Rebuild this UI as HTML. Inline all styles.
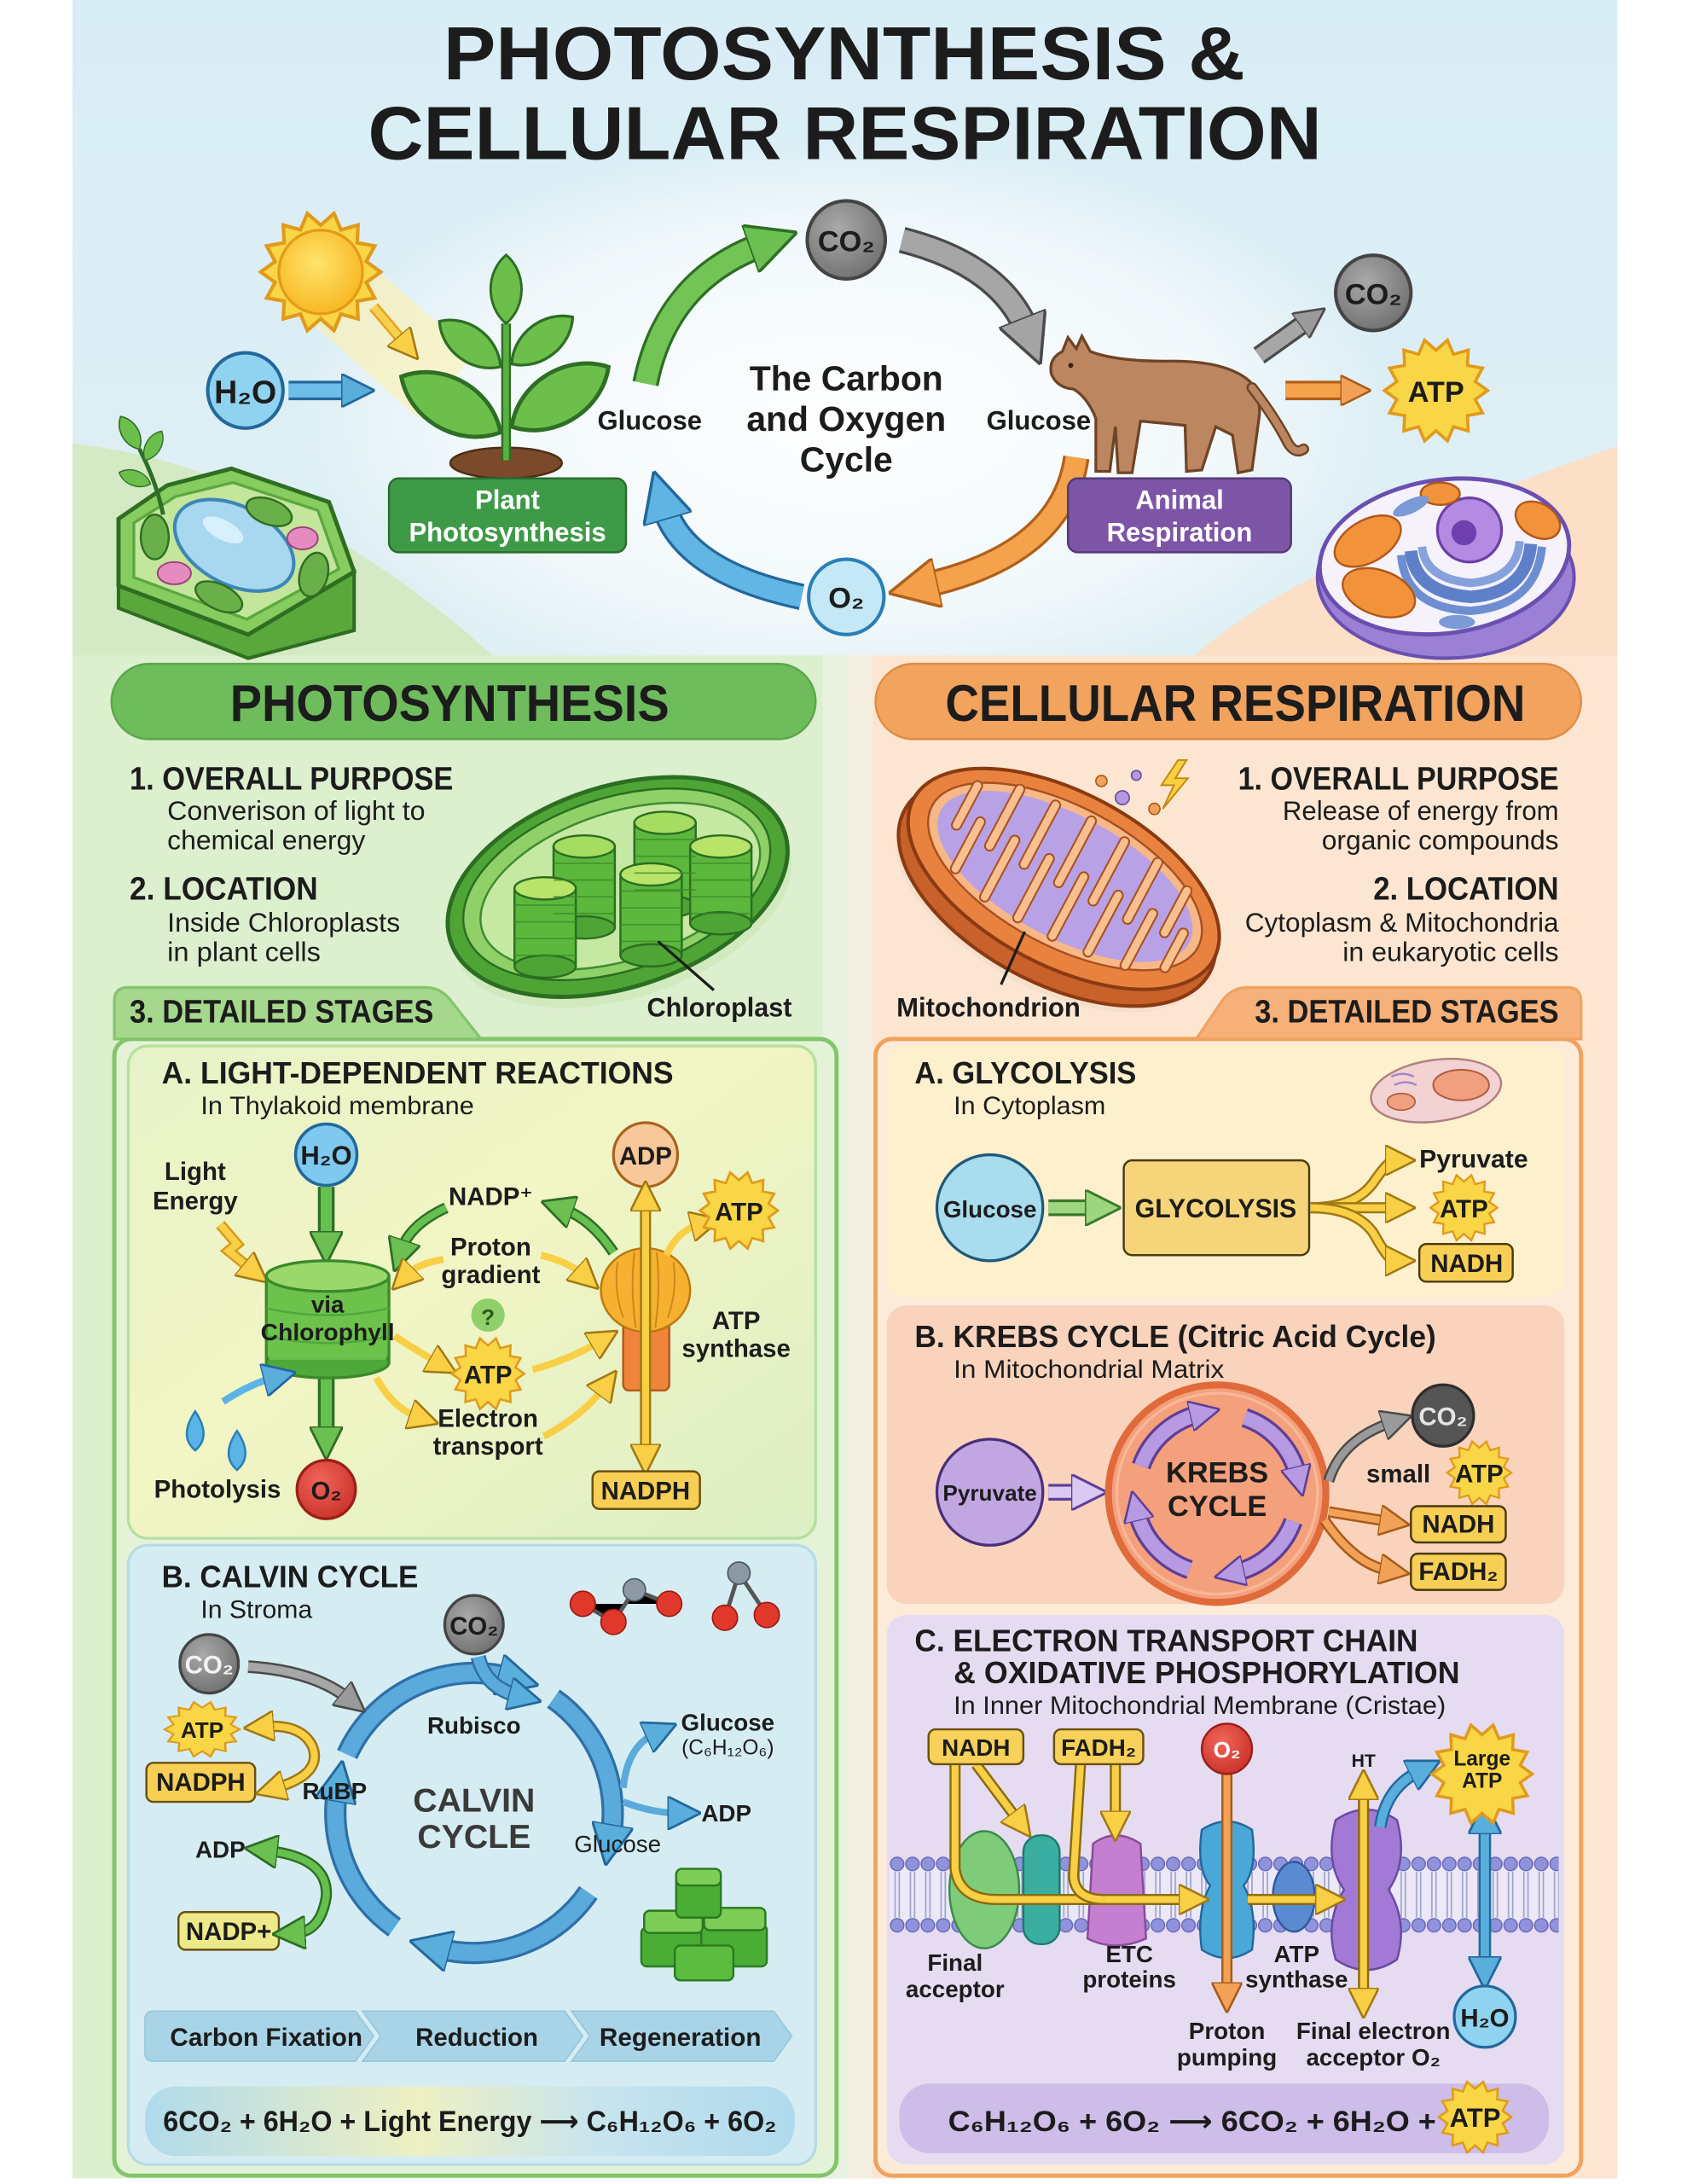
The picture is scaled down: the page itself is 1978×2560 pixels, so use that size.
<!DOCTYPE html>
<html><head><meta charset="utf-8">
<style>
html,body{margin:0;padding:0;background:#fff;overflow:hidden}
svg{display:block}
text{font-family:"Liberation Sans","DejaVu Sans",Arial,sans-serif;fill:#1c1c1c}
.b{font-weight:bold}
.c{text-anchor:middle}
.r{text-anchor:end}
</style></head><body>
<svg width="1978" height="2560" viewBox="0 0 1210 1566" preserveAspectRatio="none" xmlns="http://www.w3.org/2000/svg">
<defs>
<linearGradient id="gTop" x1="0" y1="0" x2="0" y2="1"><stop offset="0" stop-color="#d9edf6"/><stop offset="1" stop-color="#eef6f1"/></linearGradient>
<radialGradient id="glow" cx="0.5" cy="0.5" r="0.5"><stop offset="0" stop-color="#ffffff" stop-opacity="0.95"/><stop offset="0.7" stop-color="#ffffff" stop-opacity="0.6"/><stop offset="1" stop-color="#ffffff" stop-opacity="0"/></radialGradient>
<linearGradient id="gA" x1="0" y1="0" x2="1" y2="1"><stop offset="0" stop-color="#e6f3c8"/><stop offset="0.45" stop-color="#f2f5c4"/><stop offset="1" stop-color="#dcefc4"/></linearGradient>
<linearGradient id="gEqL" x1="0" y1="0" x2="1" y2="0"><stop offset="0" stop-color="#b0daec"/><stop offset="0.42" stop-color="#eef0c2"/><stop offset="0.7" stop-color="#c6e4ee"/><stop offset="1" stop-color="#b0daec"/></linearGradient>
<radialGradient id="gSun" cx="0.45" cy="0.4" r="0.6"><stop offset="0" stop-color="#ffe46a"/><stop offset="1" stop-color="#f7b824"/></radialGradient>
<radialGradient id="gGray" cx="0.4" cy="0.35" r="0.7"><stop offset="0" stop-color="#a9a9a9"/><stop offset="1" stop-color="#707070"/></radialGradient>
<radialGradient id="gRed" cx="0.4" cy="0.35" r="0.7"><stop offset="0" stop-color="#f2645a"/><stop offset="1" stop-color="#c8322a"/></radialGradient>
<pattern id="heads" width="11" height="11" patternUnits="userSpaceOnUse"><circle cx="5.5" cy="5.5" r="4.8" fill="#8f93dc" stroke="#5d60ae" stroke-width="0.8"/></pattern>
<pattern id="tails" width="11" height="11" patternUnits="userSpaceOnUse"><path d="M4,0V11M7,0V11" stroke="#9aa0c6" stroke-width="1"/></pattern>
<polygon id="star" points="10,0 7.6,1.74 9.01,4.34 6.1,4.86 6.23,7.82 3.38,7.03 2.22,9.75 0,7.8 -2.22,9.75 -3.38,7.03 -6.23,7.82 -6.1,4.86 -9.01,4.34 -7.6,1.74 -10,0 -7.6,-1.74 -9.01,-4.34 -6.1,-4.86 -6.23,-7.82 -3.38,-7.03 -2.22,-9.75 0,-7.8 2.22,-9.75 3.38,-7.03 6.23,-7.82 6.1,-4.86 9.01,-4.34 7.6,-1.74" fill="#f9d646" stroke="#e09a1c" stroke-width="0.6"/>
<path id="leaf" d="M0,0 C15,-18 45,-18 60,0 C45,18 15,18 0,0 Z" fill="#6cbf4a" stroke="#2e6e25" stroke-width="2.2"/>
<marker id="mGL" viewBox="0 0 10 10" refX="3" refY="5" markerWidth="36" markerHeight="36" markerUnits="userSpaceOnUse" orient="auto"><path d="M0,0L10,5L0,10z" fill="#6cc052" stroke="#2e6e25" stroke-width="0.6"/></marker>
<marker id="mKL" viewBox="0 0 10 10" refX="3" refY="5" markerWidth="36" markerHeight="36" markerUnits="userSpaceOnUse" orient="auto"><path d="M0,0L10,5L0,10z" fill="#a4a4a4" stroke="#4a4a4a" stroke-width="0.6"/></marker>
<marker id="mOL" viewBox="0 0 10 10" refX="3" refY="5" markerWidth="36" markerHeight="36" markerUnits="userSpaceOnUse" orient="auto"><path d="M0,0L10,5L0,10z" fill="#f4a04a" stroke="#b0601a" stroke-width="0.6"/></marker>
<marker id="mBL" viewBox="0 0 10 10" refX="3" refY="5" markerWidth="36" markerHeight="36" markerUnits="userSpaceOnUse" orient="auto"><path d="M0,0L10,5L0,10z" fill="#5fb4e4" stroke="#22689c" stroke-width="0.6"/></marker>
<marker id="mG" viewBox="0 0 10 10" refX="3" refY="5" markerWidth="24" markerHeight="24" markerUnits="userSpaceOnUse" orient="auto-start-reverse"><path d="M0,0L10,5L0,10z" fill="#6cc052" stroke="#2e6e25" stroke-width="0.7"/></marker>
<marker id="mY" viewBox="0 0 10 10" refX="3" refY="5" markerWidth="22" markerHeight="22" markerUnits="userSpaceOnUse" orient="auto-start-reverse"><path d="M0,0L10,5L0,10z" fill="#f8cf45" stroke="#a07814" stroke-width="0.7"/></marker>
<marker id="mB" viewBox="0 0 10 10" refX="3" refY="5" markerWidth="24" markerHeight="24" markerUnits="userSpaceOnUse" orient="auto-start-reverse"><path d="M0,0L10,5L0,10z" fill="#5aaedc" stroke="#22689c" stroke-width="0.7"/></marker>
<marker id="mBB" viewBox="0 0 10 10" refX="3" refY="5" markerWidth="30" markerHeight="30" markerUnits="userSpaceOnUse" orient="auto"><path d="M0,0L10,5L0,10z" fill="#5aaedc" stroke="#22689c" stroke-width="0.6"/></marker>
<marker id="mO" viewBox="0 0 10 10" refX="3" refY="5" markerWidth="22" markerHeight="22" markerUnits="userSpaceOnUse" orient="auto-start-reverse"><path d="M0,0L10,5L0,10z" fill="#f2a256" stroke="#a85a18" stroke-width="0.7"/></marker>
<marker id="mK" viewBox="0 0 10 10" refX="3" refY="5" markerWidth="22" markerHeight="22" markerUnits="userSpaceOnUse" orient="auto"><path d="M0,0L10,5L0,10z" fill="#9a9a9a" stroke="#4a4a4a" stroke-width="0.7"/></marker>
<marker id="mP" viewBox="0 0 10 10" refX="3" refY="5" markerWidth="22" markerHeight="22" markerUnits="userSpaceOnUse" orient="auto"><path d="M0,0L10,5L0,10z" fill="#b79ae2" stroke="#5e3e96" stroke-width="0.7"/></marker>
<marker id="mLG" viewBox="0 0 10 10" refX="3" refY="5" markerWidth="26" markerHeight="26" markerUnits="userSpaceOnUse" orient="auto"><path d="M0,0L10,5L0,10z" fill="#9ed67e" stroke="#3a7a2a" stroke-width="0.7"/></marker>
<marker id="mLP" viewBox="0 0 10 10" refX="3" refY="5" markerWidth="26" markerHeight="26" markerUnits="userSpaceOnUse" orient="auto"><path d="M0,0L10,5L0,10z" fill="#d9c8f2" stroke="#5e3e96" stroke-width="0.7"/></marker>
</defs>

<!-- ============ BACKGROUND ============ -->
<rect x="52" y="0" width="1108" height="1562" fill="url(#gTop)"/>
<path d="M52,318 Q160,330 256,396 Q310,430 360,476 L52,476 Z" fill="#d3eac4"/>
<path d="M1160,320 Q1040,360 930,420 Q880,448 850,476 L1160,476 Z" fill="#fbdfc6"/>
<ellipse cx="605" cy="300" rx="390" ry="200" fill="url(#glow)"/>
<rect x="52" y="470" width="556" height="1092" fill="#dcefcf"/>
<rect x="608" y="470" width="552" height="1092" fill="#fce6d2"/>
<rect x="590" y="470" width="36" height="1092" fill="#eef4ea" opacity="0.6"/>

<!-- ============ TITLE ============ -->
<text class="b" x="318" y="57" font-size="54" textLength="575" lengthAdjust="spacingAndGlyphs">PHOTOSYNTHESIS &amp;</text>
<text class="b" x="264" y="114" font-size="54" textLength="684" lengthAdjust="spacingAndGlyphs">CELLULAR RESPIRATION</text>

<!-- ============ TOP CYCLE ============ -->
<polygon points="205,215 250,175 340,255 300,300" fill="#fff1a6" opacity="0.55"/>
<use href="#star" transform="translate(230,195) scale(4.3)" fill="#f7c02e"/>
<circle cx="230" cy="195" r="30" fill="url(#gSun)" stroke="#e59a1a" stroke-width="2"/>
<path d="M268,220 L290,246" stroke="#e8a21c" stroke-width="8" fill="none"/>
<path d="M268,220 L290,246" stroke="#f8d050" stroke-width="5" fill="none" marker-end="url(#mY)"/>

<circle cx="176" cy="280" r="27" fill="#8fd3f0" stroke="#22689c" stroke-width="2.5"/>
<text class="b c" x="176" y="289" font-size="23">H₂O</text>
<path d="M207,280 L252,280" stroke="#22689c" stroke-width="14" fill="none"/>
<path d="M207,280 L252,280" stroke="#6cbde8" stroke-width="10" fill="none" marker-end="url(#mB)"/>

<ellipse cx="363" cy="332" rx="40" ry="11" fill="#7a4a2a" stroke="#4e2e18" stroke-width="1.5"/>
<path d="M363,330 L363,232" stroke="#2e6e25" stroke-width="7" fill="none"/>
<path d="M363,330 L363,232" stroke="#5bb043" stroke-width="4" fill="none"/>
<use href="#leaf" transform="translate(363,232) rotate(-90) scale(0.82)"/>
<use href="#leaf" transform="translate(359,263) rotate(216.7) scale(0.91)"/>
<use href="#leaf" transform="translate(367,261) rotate(-37.6) scale(0.92)"/>
<use href="#leaf" transform="translate(359,310) rotate(209.3) scale(1.36)"/>
<use href="#leaf" transform="translate(367,306) rotate(-31.7) scale(1.36)"/>

<rect x="279" y="343" width="170" height="53" rx="7" fill="#3f9a47" stroke="#2a6e30" stroke-width="1.5"/>
<text class="b c" x="364" y="365" font-size="19" style="fill:#fff">Plant</text>
<text class="b c" x="364" y="388" font-size="19" style="fill:#fff">Photosynthesis</text>

<text class="b c" x="466" y="308" font-size="19">Glucose</text>
<text class="b c" x="745" y="308" font-size="19">Glucose</text>

<text class="b c" x="607" y="280" font-size="25">The Carbon</text>
<text class="b c" x="607" y="309" font-size="25">and Oxygen</text>
<text class="b c" x="607" y="338" font-size="25">Cycle</text>

<g fill="none">
<path d="M463,275 Q478,200 548,175" stroke="#2e6e25" stroke-width="19"/>
<path d="M463,275 Q478,200 548,175" stroke="#72c455" stroke-width="15" marker-end="url(#mGL)"/>
<path d="M647,172 Q718,190 737,238" stroke="#4a4a4a" stroke-width="19"/>
<path d="M647,172 Q718,190 737,238" stroke="#a6a6a6" stroke-width="15" marker-end="url(#mKL)"/>
<path d="M772,328 Q762,398 662,420" stroke="#b0601a" stroke-width="19"/>
<path d="M772,328 Q762,398 662,420" stroke="#f5a24c" stroke-width="15" marker-end="url(#mOL)"/>
<path d="M575,428 Q490,410 476,362" stroke="#22689c" stroke-width="19"/>
<path d="M575,428 Q490,410 476,362" stroke="#62b6e4" stroke-width="15" marker-end="url(#mBL)"/>
</g>

<circle cx="607" cy="172" r="28" fill="url(#gGray)" stroke="#444" stroke-width="2.5"/>
<text class="b c" x="607" y="180" font-size="21">CO₂</text>
<circle cx="607" cy="428" r="27" fill="#c4e8f6" stroke="#2a7fb5" stroke-width="2.5"/>
<text class="b c" x="607" y="436" font-size="21">O₂</text>

<!-- cat -->
<path d="M754,268 Q752,257 762,252 L766,242 L772,250 L776,241 L782,252 Q800,259 836,259 Q880,258 897,274 Q905,288 903,300 L898,337 L888,339 L884,312 L872,306 L862,337 L851,338 L850,305 Q830,303 818,302 L812,339 L802,339 L800,306 L796,338 L786,338 L786,300 Q780,285 770,279 Q758,278 754,268 Z" fill="#bb8660" stroke="#6e4426" stroke-width="2"/>
<path d="M898,278 Q915,300 924,318 Q929,326 935,322" stroke="#6e4426" stroke-width="8" fill="none" stroke-linecap="round"/>
<path d="M898,278 Q915,300 924,318 Q929,326 935,322" stroke="#bb8660" stroke-width="5" fill="none" stroke-linecap="round"/>
<circle cx="768" cy="262" r="1.8" fill="#3a2010"/>

<rect x="766" y="343" width="160" height="53" rx="7" fill="#7d55a6" stroke="#553a78" stroke-width="1.5"/>
<text class="b c" x="846" y="365" font-size="19" style="fill:#fff">Animal</text>
<text class="b c" x="846" y="388" font-size="19" style="fill:#fff">Respiration</text>

<path d="M903,255 L938,230" stroke="#4a4a4a" stroke-width="14" fill="none"/>
<path d="M903,255 L938,230" stroke="#a6a6a6" stroke-width="10" fill="none" marker-end="url(#mK)"/>
<circle cx="985" cy="210" r="27" fill="url(#gGray)" stroke="#444" stroke-width="2.5"/>
<text class="b c" x="985" y="218" font-size="21">CO₂</text>
<path d="M922,280 L968,280" stroke="#b0601a" stroke-width="14" fill="none"/>
<path d="M922,280 L968,280" stroke="#f5a24c" stroke-width="10" fill="none" marker-end="url(#mO)"/>
<use href="#star" transform="translate(1030,280) scale(3.7)"/>
<text class="b c" x="1030" y="288" font-size="21">ATP</text>

<!-- plant cell -->
<g>
<polygon points="85,372 85,436 178,472 254,452 254,410 178,455 85,420" fill="#5aa83c" stroke="#2f6e22" stroke-width="2.5"/>
<polygon points="85,372 120,348 166,336 236,360 254,410 178,455 85,420" fill="#86cc5e" stroke="#2f6e22" stroke-width="3"/>
<polygon points="96,375 126,356 167,346 228,366 243,408 177,444 96,414" fill="#c3e59c" stroke="#5aa83e" stroke-width="2"/>
<ellipse cx="168" cy="391" rx="46" ry="28" transform="rotate(28 168 391)" fill="#a8d8ef" stroke="#3d86b8" stroke-width="2.5"/>
<ellipse cx="160" cy="380" rx="16" ry="7" transform="rotate(28 160 380)" fill="#d8f0fb"/>
<ellipse cx="111" cy="385" rx="10" ry="16" fill="#6ab04a" stroke="#2f6e22" stroke-width="1.5"/>
<ellipse cx="193" cy="367" rx="17" ry="9" transform="rotate(20 193 367)" fill="#6ab04a" stroke="#2f6e22" stroke-width="1.5"/>
<ellipse cx="225" cy="412" rx="10" ry="16" transform="rotate(15 225 412)" fill="#6ab04a" stroke="#2f6e22" stroke-width="1.5"/>
<ellipse cx="157" cy="428" rx="18" ry="9" transform="rotate(25 157 428)" fill="#6ab04a" stroke="#2f6e22" stroke-width="1.5"/>
<ellipse cx="125" cy="411" rx="12" ry="8" fill="#e58bc0" stroke="#a0407a" stroke-width="1.2"/>
<ellipse cx="217" cy="386" rx="11" ry="8" fill="#e58bc0" stroke="#a0407a" stroke-width="1.2"/>
<path d="M117,369 Q112,345 100,322" stroke="#2e6e25" stroke-width="3" fill="none"/>
<use href="#leaf" transform="translate(100,322) rotate(-120) scale(0.45)"/>
<use href="#leaf" transform="translate(104,330) rotate(-60) scale(0.4)"/>
<use href="#leaf" transform="translate(108,347) rotate(200) scale(0.4)"/>
</g>

<!-- animal cell -->
<g>
<ellipse cx="1037" cy="414" rx="92" ry="58" fill="#9c80d6" stroke="#6a4fb0" stroke-width="2.5"/>
<ellipse cx="1036" cy="399" rx="90" ry="55" transform="rotate(-8 1036 399)" fill="#f6f2fb" stroke="#6a4fb0" stroke-width="3"/>
<path d="M1012,395 Q1015,425 1055,428 Q1095,425 1098,390" stroke="#5d80c8" stroke-width="9" fill="none"/>
<path d="M1020,392 Q1022,415 1055,418 Q1088,415 1090,388" stroke="#86a2dc" stroke-width="6" fill="none"/>
<path d="M1005,398 Q1008,436 1055,438 Q1102,434 1106,392" stroke="#6e8ed2" stroke-width="6" fill="none"/>
<circle cx="1054" cy="380" r="23" fill="#b48ae2" stroke="#6a40a8" stroke-width="2"/>
<circle cx="1050" cy="382" r="9" fill="#7040b0"/>
<ellipse cx="981" cy="388" rx="26" ry="15" transform="rotate(-30 981 388)" fill="#f2923a" stroke="#b0581a" stroke-width="1.5"/>
<ellipse cx="989" cy="425" rx="27" ry="16" transform="rotate(20 989 425)" fill="#f2923a" stroke="#b0581a" stroke-width="1.5"/>
<ellipse cx="1103" cy="373" rx="17" ry="12" transform="rotate(30 1103 373)" fill="#f2923a" stroke="#b0581a" stroke-width="1.5"/>
<ellipse cx="1033" cy="354" rx="14" ry="8" fill="#f2923a" stroke="#b0581a" stroke-width="1.5"/>
<ellipse cx="1012" cy="363" rx="14" ry="5" transform="rotate(-25 1012 363)" fill="#7a9ad8"/>
<ellipse cx="1045" cy="446" rx="13" ry="5" fill="#7a9ad8"/>
</g>

<!-- ============ HEADERS ============ -->
<rect x="80" y="476" width="505" height="54" rx="27" fill="#6fbc5c" stroke="#5aa848" stroke-width="1.5"/>
<text class="b" x="165" y="517" font-size="37" textLength="315" lengthAdjust="spacingAndGlyphs">PHOTOSYNTHESIS</text>
<rect x="628" y="476" width="506" height="54" rx="27" fill="#f2a35e" stroke="#e08c44" stroke-width="1.5"/>
<text class="b" x="678" y="517" font-size="37" textLength="416" lengthAdjust="spacingAndGlyphs">CELLULAR RESPIRATION</text>

<!-- ============ LEFT INFO ============ -->
<text class="b" x="93" y="566" font-size="23" textLength="232" lengthAdjust="spacingAndGlyphs">1. OVERALL PURPOSE</text>
<text x="120" y="588" font-size="19" textLength="185" lengthAdjust="spacingAndGlyphs">Converison of light to</text>
<text x="120" y="609" font-size="19" textLength="142" lengthAdjust="spacingAndGlyphs">chemical energy</text>
<text class="b" x="93" y="645" font-size="23" textLength="135" lengthAdjust="spacingAndGlyphs">2. LOCATION</text>
<text x="120" y="668" font-size="19" textLength="167" lengthAdjust="spacingAndGlyphs">Inside Chloroplasts</text>
<text x="120" y="689" font-size="19" textLength="110" lengthAdjust="spacingAndGlyphs">in plant cells</text>

<!-- chloroplast -->
<g transform="rotate(-18 443 636)">
<ellipse cx="443" cy="646" rx="126" ry="70" fill="#c8e6b0" opacity="0.6"/>
<ellipse cx="443" cy="636" rx="126" ry="72" fill="#4ea536" stroke="#2b6e22" stroke-width="3"/>
<ellipse cx="443" cy="634" rx="114" ry="62" fill="#8fd068" stroke="#2b6e22" stroke-width="1.5"/>
<ellipse cx="445" cy="636" rx="104" ry="53" fill="#c5e8a2" stroke="#3f8a2e" stroke-width="1.5"/>
</g>
<g stroke="#2b6e22" stroke-width="1.5">
<g><rect x="455" y="590" width="44" height="60" fill="#5cb83c"/><ellipse cx="477" cy="650" rx="22" ry="8" fill="#4ea536"/><ellipse cx="477" cy="590" rx="22" ry="8" fill="#a6dc60"/></g>
<g><rect x="495" y="607" width="44" height="55" fill="#5cb83c"/><ellipse cx="517" cy="662" rx="22" ry="8" fill="#4ea536"/><ellipse cx="517" cy="607" rx="22" ry="8" fill="#b8e46a"/></g>
<g><rect x="397" y="607" width="44" height="58" fill="#5cb83c"/><ellipse cx="419" cy="665" rx="22" ry="8" fill="#4ea536"/><ellipse cx="419" cy="607" rx="22" ry="8" fill="#a6dc60"/></g>
<g><rect x="369" y="637" width="44" height="56" fill="#5cb83c"/><ellipse cx="391" cy="693" rx="22" ry="8" fill="#4ea536"/><ellipse cx="391" cy="637" rx="22" ry="8" fill="#b8e46a"/></g>
<g><rect x="445" y="627" width="44" height="58" fill="#5cb83c"/><ellipse cx="467" cy="685" rx="22" ry="8" fill="#4ea536"/><ellipse cx="467" cy="627" rx="22" ry="8" fill="#b8e46a"/></g>
</g>
<g stroke="#3a8a2a" stroke-width="1" opacity="0.8" fill="none">
<path d="M455,602h44M455,614h44M455,626h44M455,638h44"/>
<path d="M495,619h44M495,631h44M495,643h44M495,655h44"/>
<path d="M397,619h44M397,631h44M397,643h44M397,655h44"/>
<path d="M369,649h44M369,661h44M369,673h44M369,685h44"/>
<path d="M445,639h44M445,651h44M445,663h44M445,675h44"/>
</g>
<path d="M472,675 L512,710" stroke="#1c1c1c" stroke-width="2"/>
<text class="b" x="464" y="729" font-size="19" textLength="104" lengthAdjust="spacingAndGlyphs">Chloroplast</text>

<!-- ============ RIGHT INFO ============ -->
<text class="b r" x="1118" y="566" font-size="23" textLength="230" lengthAdjust="spacingAndGlyphs">1. OVERALL PURPOSE</text>
<text class="r" x="1118" y="588" font-size="19" textLength="198" lengthAdjust="spacingAndGlyphs">Release of energy from</text>
<text class="r" x="1118" y="609" font-size="19" textLength="170" lengthAdjust="spacingAndGlyphs">organic compounds</text>
<text class="b r" x="1118" y="645" font-size="23" textLength="133" lengthAdjust="spacingAndGlyphs">2. LOCATION</text>
<text class="r" x="1118" y="668" font-size="19" textLength="225" lengthAdjust="spacingAndGlyphs">Cytoplasm &amp; Mitochondria</text>
<text class="r" x="1118" y="689" font-size="19" textLength="155" lengthAdjust="spacingAndGlyphs">in eukaryotic cells</text>

<!-- mitochondrion -->
<g transform="rotate(28 762 632)">
<ellipse cx="762" cy="645" rx="124" ry="66" fill="#f3dcc8" opacity="0.7"/>
<ellipse cx="762" cy="640" rx="124" ry="66" fill="#c9612a" stroke="#8a3a12" stroke-width="2.5"/>
<ellipse cx="762" cy="630" rx="122" ry="62" fill="#e8823e" stroke="#8a3a12" stroke-width="2.5"/>
<ellipse cx="762" cy="628" rx="108" ry="50" fill="#f7b888" stroke="#a85020" stroke-width="1.5"/>
<ellipse cx="762" cy="628" rx="101" ry="44" fill="#b9a1e6"/>
<path d="M676,600 V632 M690,660 V622 M704,588 V634 M718,668 V622 M732,586 V634 M746,670 V622 M760,584 V634 M774,670 V622 M788,586 V634 M802,668 V622 M816,588 V634 M830,664 V622 M844,596 V630 M856,652 V624" stroke="#a85020" stroke-width="8" stroke-linecap="round" fill="none"/>
<path d="M676,600 V632 M690,660 V622 M704,588 V634 M718,668 V622 M732,586 V634 M746,670 V622 M760,584 V634 M774,670 V622 M788,586 V634 M802,668 V622 M816,588 V634 M830,664 V622 M844,596 V630 M856,652 V624" stroke="#f7c08e" stroke-width="5.5" stroke-linecap="round" fill="none"/>
</g>
<circle cx="790" cy="560" r="4" fill="#f2a25a" stroke="#a85a18"/>
<circle cx="805" cy="572" r="5" fill="#b49ae0" stroke="#6a4aa0"/>
<circle cx="815" cy="556" r="3.5" fill="#b49ae0" stroke="#6a4aa0"/>
<circle cx="828" cy="580" r="4" fill="#f2a25a" stroke="#a85a18"/>
<path d="M845,545 L833,563 L842,563 L834,580 L852,558 L843,558 L851,545 Z" fill="#f8d040" stroke="#c08a10" stroke-width="1.2"/>
<path d="M735,668 L718,706" stroke="#1c1c1c" stroke-width="2"/>
<text class="b" x="643" y="729" font-size="19" textLength="132" lengthAdjust="spacingAndGlyphs">Mitochondrion</text>

<!-- ============ FRAMES ============ -->
<rect x="82" y="745" width="518" height="815" rx="12" fill="#e4f3d8" stroke="#84c56c" stroke-width="3"/>
<path d="M82,745 L82,718 Q82,708 92,708 L305,708 Q316,708 323,717 L345,745 Z" fill="#a5d78c" stroke="#84c56c" stroke-width="2"/>
<text class="b" x="93" y="733" font-size="23" textLength="218" lengthAdjust="spacingAndGlyphs">3. DETAILED STAGES</text>

<rect x="628" y="745" width="506" height="815" rx="12" fill="#fdebd9" stroke="#f0a25e" stroke-width="3"/>
<path d="M1134,745 L1134,718 Q1134,708 1124,708 L895,708 Q884,708 877,717 L858,745 Z" fill="#f6b07a" stroke="#f0a25e" stroke-width="2"/>
<text class="b r" x="1118" y="733" font-size="23" textLength="218" lengthAdjust="spacingAndGlyphs">3. DETAILED STAGES</text>

<!-- ============ A. LIGHT-DEPENDENT ============ -->
<rect x="92" y="750" width="493" height="353" rx="14" fill="url(#gA)" stroke="#b7df9e" stroke-width="2"/>
<text class="b" x="116" y="777" font-size="22" textLength="367" lengthAdjust="spacingAndGlyphs">A. LIGHT-DEPENDENT REACTIONS</text>
<text x="144" y="799" font-size="18" textLength="196" lengthAdjust="spacingAndGlyphs">In Thylakoid membrane</text>

<text class="b c" x="140" y="846" font-size="18">Light</text>
<text class="b c" x="140" y="867" font-size="18">Energy</text>
<path d="M158,878 L170,892 L164,897 L180,910" stroke="#d89a1a" stroke-width="8" fill="none"/>
<path d="M158,878 L170,892 L164,897 L180,910" stroke="#f8cf45" stroke-width="5" fill="none" marker-end="url(#mY)"/>

<circle cx="234" cy="828" r="22" fill="#7fc8ef" stroke="#22689c" stroke-width="2.2"/>
<text class="b c" x="234" y="835" font-size="19">H₂O</text>
<g fill="none">
<path d="M234,851 V890" stroke="#2e6e25" stroke-width="12"/>
<path d="M234,851 V890" stroke="#66c050" stroke-width="8" marker-end="url(#mG)"/>
<path d="M234,988 V1030" stroke="#2e6e25" stroke-width="12"/>
<path d="M234,988 V1030" stroke="#66c050" stroke-width="8" marker-end="url(#mG)"/>
</g>
<rect x="191" y="915" width="88" height="62" fill="#6cc24a" stroke="#3a8a2a" stroke-width="2"/>
<ellipse cx="235" cy="977" rx="44" ry="11" fill="#4ea83a" stroke="#3a8a2a" stroke-width="2"/>
<rect x="193" y="930" width="84" height="45" fill="#6cc24a"/>
<ellipse cx="235" cy="915" rx="44" ry="11" fill="#9ad86c" stroke="#3a8a2a" stroke-width="2"/>
<path d="M191,938 Q235,948 279,938 M191,958 Q235,968 279,958" stroke="#4ea83a" stroke-width="1.5" fill="none"/>
<text class="b c" x="235" y="941" font-size="17">via</text>
<text class="b c" x="235" y="961" font-size="17" textLength="96" lengthAdjust="spacingAndGlyphs">Chlorophyll</text>

<path d="M140,1012 Q128,1030 140,1040 Q152,1030 140,1012 Z" fill="#5ab4e6" stroke="#2a7fb5" stroke-width="1.5"/>
<path d="M170,1026 Q158,1044 170,1054 Q182,1044 170,1026 Z" fill="#5ab4e6" stroke="#2a7fb5" stroke-width="1.5"/>
<path d="M160,1005 Q180,992 196,988" stroke="#5ab4e6" stroke-width="5" fill="none" marker-end="url(#mB)"/>
<text class="b c" x="156" y="1074" font-size="18">Photolysis</text>
<circle cx="234" cy="1068" r="21" fill="url(#gRed)" stroke="#9a2018" stroke-width="2"/>
<text class="b c" x="234" y="1075" font-size="18">O₂</text>

<text class="b c" x="352" y="864" font-size="18">NADP⁺</text>
<g fill="none">
<path d="M320,866 Q294,878 288,896" stroke="#2e6e25" stroke-width="8"/>
<path d="M320,866 Q294,878 288,896" stroke="#66c050" stroke-width="5" marker-end="url(#mG)"/>
<path d="M440,898 Q424,874 404,867" stroke="#2e6e25" stroke-width="8"/>
<path d="M440,898 Q424,874 404,867" stroke="#66c050" stroke-width="5" marker-end="url(#mG)"/>
</g>
<text class="b c" x="352" y="900" font-size="18">Proton</text>
<text class="b c" x="352" y="920" font-size="18">gradient</text>
<g fill="none">
<path d="M318,903 Q300,906 292,914" stroke="#f8cf45" stroke-width="5" marker-end="url(#mY)"/>
<path d="M388,900 Q408,905 418,914" stroke="#f8cf45" stroke-width="5" marker-end="url(#mY)"/>
<path d="M283,958 Q298,968 314,977" stroke="#f8cf45" stroke-width="5" marker-end="url(#mY)"/>
<path d="M382,982 Q408,975 430,962" stroke="#f8cf45" stroke-width="5" marker-end="url(#mY)"/>
<path d="M270,988 Q282,1010 300,1016" stroke="#f8cf45" stroke-width="5" marker-end="url(#mY)"/>
<path d="M390,1030 Q418,1015 433,995" stroke="#f8cf45" stroke-width="5" marker-end="url(#mY)"/>
</g>
<circle cx="350" cy="943" r="12" fill="#8fd06a"/>
<text class="b c" x="350" y="950" font-size="16" style="fill:#2e5a1e">?</text>
<use href="#star" transform="translate(350,985) scale(2.6)"/>
<text class="b c" x="350" y="992" font-size="18">ATP</text>
<text class="b c" x="350" y="1023" font-size="18">Electron</text>
<text class="b c" x="350" y="1043" font-size="18">transport</text>

<circle cx="463" cy="828" r="23" fill="#f8c89a" stroke="#a8641e" stroke-width="2"/>
<text class="b c" x="463" y="835" font-size="18">ADP</text>
<rect x="447" y="945" width="33" height="52" rx="4" fill="#f0843a" stroke="#b05a1a" stroke-width="1.5"/>
<ellipse cx="463" cy="925" rx="32" ry="30" fill="#f7b030" stroke="#b87a10" stroke-width="1.5"/>
<path d="M443,905 Q440,925 447,945 M455,898 Q452,925 456,952 M471,898 Q474,925 470,952 M483,905 Q486,925 479,945" stroke="#c88a18" stroke-width="1.2" fill="none"/>
<path d="M463,862 V1042" stroke="#a07814" stroke-width="8" fill="none"/>
<path d="M463,862 V1042" stroke="#f8cf45" stroke-width="5" fill="none" marker-start="url(#mY)" marker-end="url(#mY)"/>
<path d="M478,900 Q486,882 502,878" stroke="#f8cf45" stroke-width="5" fill="none" marker-end="url(#mY)"/>
<use href="#star" transform="translate(530,868) scale(2.8)"/>
<text class="b c" x="530" y="875" font-size="18">ATP</text>
<text class="b c" x="528" y="953" font-size="18">ATP</text>
<text class="b c" x="528" y="973" font-size="18">synthase</text>
<rect x="425" y="1055" width="77" height="27" rx="5" fill="#f7cf55" stroke="#6a5010" stroke-width="1.5"/>
<text class="b c" x="463" y="1075" font-size="18">NADPH</text>

<!-- ============ B. CALVIN ============ -->
<rect x="92" y="1108" width="493" height="444" rx="14" fill="#d5edf2" stroke="#b5dbe6" stroke-width="2"/>
<text class="b" x="116" y="1138" font-size="22" textLength="184" lengthAdjust="spacingAndGlyphs">B. CALVIN CYCLE</text>
<text x="144" y="1160" font-size="18" textLength="80" lengthAdjust="spacingAndGlyphs">In Stroma</text>

<g stroke="#555" stroke-width="3">
<path d="M418,1150 L440,1163 L455,1140 L480,1150 M530,1128 L520,1160 M530,1128 L550,1158"/>
</g>
<circle cx="418" cy="1150" r="9" fill="#e0392b" stroke="#9a1a10"/>
<circle cx="440" cy="1163" r="9" fill="#e0392b" stroke="#9a1a10"/>
<circle cx="455" cy="1140" r="8" fill="#8c98a4" stroke="#4a5560"/>
<circle cx="480" cy="1150" r="9" fill="#e0392b" stroke="#9a1a10"/>
<circle cx="530" cy="1128" r="8" fill="#8c98a4" stroke="#4a5560"/>
<circle cx="520" cy="1160" r="9" fill="#e0392b" stroke="#9a1a10"/>
<circle cx="550" cy="1158" r="9" fill="#e0392b" stroke="#9a1a10"/>

<g fill="none">
<path d="M249,1258 A100,100 0 0 1 366,1203" stroke="#2f6fa8" stroke-width="16"/>
<path d="M249,1258 A100,100 0 0 1 366,1203" stroke="#5aaadc" stroke-width="12" marker-end="url(#mBB)"/>
<path d="M397,1218 A100,100 0 0 1 438,1317" stroke="#2f6fa8" stroke-width="16"/>
<path d="M397,1218 A100,100 0 0 1 438,1317" stroke="#5aaadc" stroke-width="12" marker-end="url(#mBB)"/>
<path d="M422,1357 A100,100 0 0 1 314,1397" stroke="#2f6fa8" stroke-width="16"/>
<path d="M422,1357 A100,100 0 0 1 314,1397" stroke="#5aaadc" stroke-width="12" marker-end="url(#mBB)"/>
<path d="M283,1382 A100,100 0 0 1 242,1283" stroke="#2f6fa8" stroke-width="16"/>
<path d="M283,1382 A100,100 0 0 1 242,1283" stroke="#5aaadc" stroke-width="12" marker-end="url(#mBB)"/>
<path d="M343,1188 Q348,1210 372,1216" stroke="#2f6fa8" stroke-width="11"/>
<path d="M343,1188 Q348,1210 372,1216" stroke="#5aaadc" stroke-width="8" marker-end="url(#mB)"/>
<path d="M178,1195 Q225,1198 250,1218" stroke="#4a4a4a" stroke-width="9"/>
<path d="M178,1195 Q225,1198 250,1218" stroke="#a6a6a6" stroke-width="6" marker-end="url(#mK)"/>
</g>
<circle cx="340" cy="1165" r="21" fill="url(#gGray)" stroke="#444" stroke-width="2"/>
<text class="b c" x="340" y="1172" font-size="18">CO₂</text>
<circle cx="150" cy="1193" r="21" fill="url(#gGray)" stroke="#444" stroke-width="2"/>
<text class="b c" x="150" y="1200" font-size="18" style="fill:#f2f2f2">CO₂</text>

<text class="b c" x="340" y="1243" font-size="17">Rubisco</text>
<text class="b c" x="340" y="1299" font-size="24" style="fill:#3a3a3a">CALVIN</text>
<text class="b c" x="340" y="1325" font-size="24" style="fill:#3a3a3a">CYCLE</text>
<text class="c" x="443" y="1328" font-size="17">Glucose</text>
<text class="b c" x="240" y="1290" font-size="17">RuBP</text>

<use href="#star" transform="translate(145,1240) scale(2.7,2.0)"/>
<text class="b c" x="145" y="1246" font-size="16">ATP</text>
<rect x="105" y="1264" width="78" height="28" rx="5" fill="#f7cf55" stroke="#6a5010" stroke-width="1.5"/>
<text class="b c" x="144" y="1284" font-size="18">NADPH</text>
<path d="M198,1282 Q232,1272 224,1252 Q216,1236 190,1238" stroke="#a07814" stroke-width="8" fill="none"/>
<path d="M198,1282 Q232,1272 224,1252 Q216,1236 190,1238" stroke="#f8cf45" stroke-width="5" fill="none" marker-start="url(#mY)" marker-end="url(#mY)"/>
<text class="b c" x="158" y="1332" font-size="17">ADP</text>
<rect x="128" y="1371" width="72" height="27" rx="5" fill="#eeea8c" stroke="#6a5010" stroke-width="1.5"/>
<text class="b c" x="164" y="1391" font-size="18">NADP+</text>
<path d="M192,1327 Q236,1332 234,1360 Q230,1385 212,1386" stroke="#2e6e25" stroke-width="8" fill="none"/>
<path d="M192,1327 Q236,1332 234,1360 Q230,1385 212,1386" stroke="#66c050" stroke-width="5" fill="none" marker-start="url(#mG)" marker-end="url(#mG)"/>

<text class="b c" x="522" y="1241" font-size="17">Glucose</text>
<text class="c" x="522" y="1258" font-size="15">(C₆H₁₂O₆)</text>
<path d="M447,1282 Q450,1252 470,1243" stroke="#5aaadc" stroke-width="5" fill="none" marker-end="url(#mB)"/>
<path d="M447,1292 Q468,1300 486,1300" stroke="#5aaadc" stroke-width="5" fill="none" marker-end="url(#mB)"/>
<text class="b c" x="521" y="1306" font-size="17">ADP</text>

<g stroke="#2a7a20" stroke-width="1.5">
<rect x="460" y="1382" width="45" height="28" rx="4" fill="#4aae36"/>
<rect x="503" y="1380" width="47" height="30" rx="4" fill="#4aae36"/>
<rect x="462" y="1370" width="42" height="16" rx="4" fill="#7ccc56"/>
<rect x="505" y="1368" width="44" height="16" rx="4" fill="#7ccc56"/>
<rect x="485" y="1345" width="32" height="30" rx="4" fill="#4aae36"/>
<rect x="485" y="1340" width="32" height="12" rx="4" fill="#7ccc56"/>
<rect x="484" y="1395" width="42" height="25" rx="4" fill="#5cbc40"/>
</g>

<g fill="#a9d4e7" stroke="#95c6dc" stroke-width="1">
<path d="M110,1442 L255,1442 L268,1460 L255,1478 L110,1478 Q104,1478 104,1472 L104,1448 Q104,1442 110,1442 Z"/>
<path d="M260,1442 L405,1442 L418,1460 L405,1478 L260,1478 L273,1460 Z"/>
<path d="M410,1442 L555,1442 L568,1460 L555,1478 L410,1478 L423,1460 Z"/>
</g>
<text class="b c" x="191" y="1467" font-size="18" textLength="138" lengthAdjust="spacingAndGlyphs">Carbon Fixation</text>
<text class="b c" x="342" y="1467" font-size="18">Reduction</text>
<text class="b c" x="488" y="1467" font-size="18" textLength="116" lengthAdjust="spacingAndGlyphs">Regeneration</text>

<rect x="104" y="1496" width="466" height="50" rx="22" fill="url(#gEqL)"/>
<text class="b" x="117" y="1528" font-size="21" textLength="440" lengthAdjust="spacingAndGlyphs">6CO₂ + 6H₂O + Light Energy ⟶ C₆H₁₂O₆ + 6O₂</text>

<!-- ============ A. GLYCOLYSIS ============ -->
<rect x="636" y="750" width="486" height="180" rx="14" fill="#fdf0cd"/>
<text class="b" x="656" y="777" font-size="22" textLength="159" lengthAdjust="spacingAndGlyphs">A. GLYCOLYSIS</text>
<text x="684" y="799" font-size="18" textLength="109" lengthAdjust="spacingAndGlyphs">In Cytoplasm</text>
<ellipse cx="1030" cy="782" rx="47" ry="22" transform="rotate(-8 1030 782)" fill="#f3d2d4" stroke="#b08080" stroke-width="1.5"/>
<ellipse cx="1048" cy="778" rx="20" ry="11" fill="#f0a080" stroke="#b05a3a" stroke-width="1.2"/>
<ellipse cx="1005" cy="790" rx="10" ry="6" fill="#f0a080" stroke="#b05a3a" stroke-width="1"/>
<path d="M998,772 q8,-4 16,0 M1000,778 q8,-4 16,0" stroke="#a088c8" stroke-width="1.5" fill="none"/>

<circle cx="710" cy="866" r="38" fill="#a9dcec" stroke="#1e5a7a" stroke-width="2"/>
<text class="b c" x="710" y="873" font-size="17">Glucose</text>
<path d="M752,866 L786,866" stroke="#3a7a2a" stroke-width="12" fill="none"/>
<path d="M752,866 L786,866" stroke="#9ed67e" stroke-width="8" fill="none" marker-end="url(#mLG)"/>
<rect x="806" y="832" width="133" height="68" rx="6" fill="#f6d57a" stroke="#4a3a10" stroke-width="1.5"/>
<text class="b c" x="872" y="873" font-size="19" textLength="116" lengthAdjust="spacingAndGlyphs">GLYCOLYSIS</text>
<g fill="none">
<path d="M940,866 Q972,866 985,848 Q996,832 1000,832" stroke="#a07814" stroke-width="8"/>
<path d="M940,866 Q972,866 985,848 Q996,832 1000,832" stroke="#f8cf45" stroke-width="5" marker-end="url(#mY)"/>
<path d="M940,866 L1000,866" stroke="#a07814" stroke-width="8"/>
<path d="M940,866 L1000,866" stroke="#f8cf45" stroke-width="5" marker-end="url(#mY)"/>
<path d="M940,866 Q972,866 985,884 Q996,904 1000,904" stroke="#a07814" stroke-width="8"/>
<path d="M940,866 Q972,866 985,884 Q996,904 1000,904" stroke="#f8cf45" stroke-width="5" marker-end="url(#mY)"/>
</g>
<text class="b" x="1018" y="837" font-size="18" textLength="78" lengthAdjust="spacingAndGlyphs">Pyruvate</text>
<use href="#star" transform="translate(1050,866) scale(2.4)"/>
<text class="b c" x="1050" y="873" font-size="18">ATP</text>
<rect x="1018" y="892" width="67" height="27" rx="5" fill="#f7cf55" stroke="#4a3a10" stroke-width="1.5"/>
<text class="b c" x="1052" y="912" font-size="18">NADH</text>

<!-- ============ B. KREBS ============ -->
<rect x="636" y="936" width="486" height="214" rx="14" fill="#f9d3bc"/>
<text class="b" x="656" y="966" font-size="22" textLength="374" lengthAdjust="spacingAndGlyphs">B. KREBS CYCLE (Citric Acid Cycle)</text>
<text x="684" y="988" font-size="18" textLength="194" lengthAdjust="spacingAndGlyphs">In Mitochondrial Matrix</text>
<circle cx="710" cy="1070" r="38" fill="#c2a6e2" stroke="#4a2e7a" stroke-width="2"/>
<text class="b c" x="710" y="1076" font-size="16">Pyruvate</text>
<path d="M752,1070 L776,1070" stroke="#5e3e96" stroke-width="12" fill="none"/>
<path d="M752,1070 L776,1070" stroke="#d9c8f2" stroke-width="8" fill="none" marker-end="url(#mLP)"/>
<circle cx="873" cy="1071" r="78" fill="#f4a07c" stroke="#e06a3a" stroke-width="5"/>
<circle cx="873" cy="1071" r="72" fill="none" stroke="#f7b898" stroke-width="2"/>
<g fill="none">
<path d="M818.5,1051.2 A58,58 0 0 1 860,1014" stroke="#5e3e96" stroke-width="14"/>
<path d="M818.5,1051.2 A58,58 0 0 1 860,1014" stroke="#b79ae2" stroke-width="10" marker-end="url(#mP)"/>
<path d="M892.8,1016.5 A58,58 0 0 1 930.8,1058" stroke="#5e3e96" stroke-width="14"/>
<path d="M892.8,1016.5 A58,58 0 0 1 930.8,1058" stroke="#b79ae2" stroke-width="10" marker-end="url(#mP)"/>
<path d="M927.5,1090.8 A58,58 0 0 1 886,1127.5" stroke="#5e3e96" stroke-width="14"/>
<path d="M927.5,1090.8 A58,58 0 0 1 886,1127.5" stroke="#b79ae2" stroke-width="10" marker-end="url(#mP)"/>
<path d="M853.2,1125.5 A58,58 0 0 1 815.5,1084" stroke="#5e3e96" stroke-width="14"/>
<path d="M853.2,1125.5 A58,58 0 0 1 815.5,1084" stroke="#b79ae2" stroke-width="10" marker-end="url(#mP)"/>
</g>
<text class="b c" x="873" y="1063" font-size="21">KREBS</text>
<text class="b c" x="873" y="1087" font-size="21">CYCLE</text>
<g fill="none">
<path d="M953,1062 Q962,1032 998,1020" stroke="#4a4a4a" stroke-width="8"/>
<path d="M953,1062 Q962,1032 998,1020" stroke="#9a9a9a" stroke-width="5" marker-end="url(#mK)"/>
<path d="M953,1084 L996,1091" stroke="#a85a18" stroke-width="8"/>
<path d="M953,1084 L996,1091" stroke="#f2a256" stroke-width="5" marker-end="url(#mO)"/>
<path d="M950,1090 Q972,1122 996,1126" stroke="#a85a18" stroke-width="8"/>
<path d="M950,1090 Q972,1122 996,1126" stroke="#f2a256" stroke-width="5" marker-end="url(#mO)"/>
</g>
<circle cx="1035" cy="1015" r="22" fill="#555" stroke="#2e2e2e" stroke-width="2"/>
<text class="b c" x="1035" y="1022" font-size="18" style="fill:#e4e4e4">CO₂</text>
<text class="b c" x="1003" y="1063" font-size="18">small</text>
<use href="#star" transform="translate(1061,1056) scale(2.3)"/>
<text class="b c" x="1061" y="1063" font-size="18">ATP</text>
<rect x="1012" y="1080" width="68" height="26" rx="5" fill="#f7cf55" stroke="#4a3a10" stroke-width="1.5"/>
<text class="b c" x="1046" y="1099" font-size="18">NADH</text>
<rect x="1012" y="1114" width="68" height="26" rx="5" fill="#f7cf55" stroke="#4a3a10" stroke-width="1.5"/>
<text class="b c" x="1046" y="1133" font-size="18">FADH₂</text>

<!-- ============ C. ETC ============ -->
<rect x="636" y="1158" width="486" height="394" rx="14" fill="#e6dcf2"/>
<text class="b" x="656" y="1184" font-size="22" textLength="361" lengthAdjust="spacingAndGlyphs">C. ELECTRON TRANSPORT CHAIN</text>
<text class="b" x="684" y="1207" font-size="22" textLength="363" lengthAdjust="spacingAndGlyphs">&amp; OXIDATIVE PHOSPHORYLATION</text>
<text x="684" y="1229" font-size="18" textLength="353" lengthAdjust="spacingAndGlyphs">In Inner Mitochondrial Membrane (Cristae)</text>

<rect x="638" y="1336" width="480" height="46" fill="#ece8f8"/>
<rect x="638" y="1342" width="480" height="33" fill="url(#tails)"/>
<rect x="638" y="1331" width="480" height="11" fill="url(#heads)"/>
<rect x="638" y="1375" width="480" height="11" fill="url(#heads)"/>

<ellipse cx="706" cy="1355" rx="25" ry="42" fill="#7ecb7a" stroke="#3a8a4a" stroke-width="1.5"/>
<rect x="734" y="1316" width="26" height="78" rx="12" fill="#3aaea0" stroke="#1e7a6e" stroke-width="1.5"/>
<path d="M784,1322 Q800,1310 818,1322 L822,1390 Q800,1400 780,1390 Z" fill="#c47fd0" stroke="#8a4a9a" stroke-width="1.5"/>
<path d="M862,1312 Q880,1300 898,1312 Q902,1340 892,1352 Q902,1370 898,1398 Q880,1410 862,1398 Q858,1370 868,1352 Q858,1340 862,1312 Z" fill="#4aa8d8" stroke="#22689c" stroke-width="1.5"/>
<ellipse cx="928" cy="1360" rx="15" ry="25" fill="#5a8ad0" stroke="#2e5a9a" stroke-width="1.5"/>
<path d="M958,1305 Q980,1290 1002,1305 Q1010,1335 996,1355 Q1010,1378 1002,1405 Q980,1420 958,1405 Q950,1378 964,1355 Q950,1335 958,1305 Z" fill="#a27ad6" stroke="#6a4aa0" stroke-width="1.5"/>

<g fill="none">
<path d="M685,1265 L685,1340 Q688,1362 715,1362 L852,1362" stroke="#8a6a10" stroke-width="8"/>
<path d="M685,1265 L685,1340 Q688,1362 715,1362 L852,1362" stroke="#f8cf45" stroke-width="5" marker-end="url(#mY)"/>
<path d="M700,1265 L730,1305" stroke="#8a6a10" stroke-width="8"/>
<path d="M700,1265 L730,1305" stroke="#f8cf45" stroke-width="5" marker-end="url(#mY)"/>
<path d="M775,1265 L770,1345 Q771,1362 792,1362" stroke="#8a6a10" stroke-width="8"/>
<path d="M775,1265 L770,1345 Q771,1362 792,1362" stroke="#f8cf45" stroke-width="5"/>
<path d="M800,1265 L800,1305" stroke="#8a6a10" stroke-width="8"/>
<path d="M800,1265 L800,1305" stroke="#f8cf45" stroke-width="5" marker-end="url(#mY)"/>
<path d="M895,1362 L950,1362" stroke="#8a6a10" stroke-width="8"/>
<path d="M895,1362 L950,1362" stroke="#f8cf45" stroke-width="5" marker-end="url(#mY)"/>
<path d="M880,1272 L880,1428" stroke="#a85a18" stroke-width="8"/>
<path d="M880,1272 L880,1428" stroke="#f2a256" stroke-width="5" marker-end="url(#mO)"/>
<path d="M978,1284 L978,1432" stroke="#8a6a10" stroke-width="8"/>
<path d="M978,1284 L978,1432" stroke="#f8cf45" stroke-width="5" marker-start="url(#mY)" marker-end="url(#mY)"/>
<path d="M990,1310 Q994,1282 1018,1270" stroke="#22689c" stroke-width="9"/>
<path d="M990,1310 Q994,1282 1018,1270" stroke="#5aaedc" stroke-width="6" marker-end="url(#mB)"/>
<path d="M1065,1308 L1065,1410" stroke="#22689c" stroke-width="9"/>
<path d="M1065,1308 L1065,1410" stroke="#5aaedc" stroke-width="6" marker-start="url(#mB)" marker-end="url(#mB)"/>
</g>

<rect x="666" y="1240" width="68" height="25" rx="5" fill="#f7d15a" stroke="#6a5010" stroke-width="1.5"/>
<text class="b c" x="700" y="1259" font-size="17">NADH</text>
<rect x="756" y="1240" width="64" height="25" rx="5" fill="#f7d15a" stroke="#6a5010" stroke-width="1.5"/>
<text class="b c" x="788" y="1259" font-size="17">FADH₂</text>
<circle cx="880" cy="1254" r="18" fill="url(#gRed)" stroke="#9a2018" stroke-width="1.5"/>
<text class="b c" x="880" y="1260" font-size="16" style="fill:#fff">O₂</text>
<text class="b c" x="978" y="1267" font-size="13">HT</text>
<use href="#star" transform="translate(1063,1272) scale(3.6)"/>
<text class="b c" x="1063" y="1266" font-size="15">Large</text>
<text class="b c" x="1063" y="1282" font-size="15">ATP</text>

<circle cx="1065" cy="1446" r="22" fill="#8fd3f0" stroke="#22689c" stroke-width="2"/>
<text class="b c" x="1065" y="1453" font-size="18">H₂O</text>

<text class="b c" x="685" y="1413" font-size="17">Final</text>
<text class="b c" x="685" y="1432" font-size="17">acceptor</text>
<text class="b c" x="810" y="1407" font-size="17">ETC</text>
<text class="b c" x="810" y="1425" font-size="17">proteins</text>
<text class="b c" x="930" y="1407" font-size="17">ATP</text>
<text class="b c" x="930" y="1425" font-size="17">synthase</text>
<text class="b c" x="880" y="1462" font-size="17">Proton</text>
<text class="b c" x="880" y="1481" font-size="17">pumping</text>
<text class="b c" x="985" y="1462" font-size="17">Final electron</text>
<text class="b c" x="985" y="1481" font-size="17">acceptor O₂</text>

<rect x="645" y="1494" width="466" height="50" rx="22" fill="#cdbde8"/>
<text class="b" x="680" y="1528" font-size="21" textLength="350" lengthAdjust="spacingAndGlyphs">C₆H₁₂O₆ + 6O₂ ⟶ 6CO₂ + 6H₂O +</text>
<use href="#star" transform="translate(1058,1518) scale(2.6)"/>
<text class="b c" x="1058" y="1525" font-size="19">ATP</text>
</svg>
</body></html>
